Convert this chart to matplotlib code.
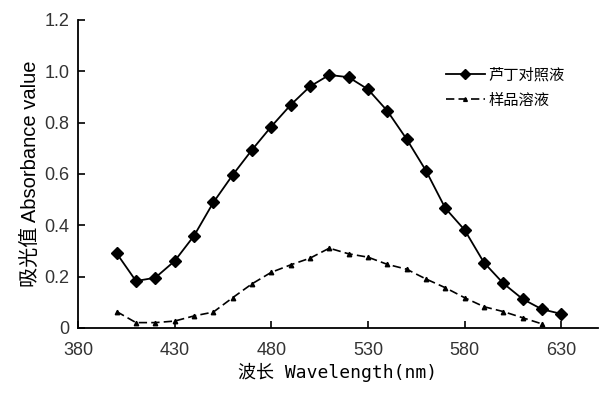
import matplotlib
matplotlib.use("Agg")
import matplotlib.pyplot as plt

wl_rutin = [400, 410, 420, 430, 440, 450, 460, 470, 480, 490, 500, 510,
            520, 530, 540, 550, 560, 570, 580, 590, 600, 610, 620, 630]
abs_rutin = [0.291, 0.183, 0.196, 0.261, 0.359, 0.489, 0.596, 0.694, 0.785,
             0.869, 0.941, 0.986, 0.977, 0.930, 0.846, 0.736, 0.613, 0.467,
             0.382, 0.255, 0.174, 0.113, 0.073, 0.055]
wl_sample = [400, 410, 420, 430, 440, 450, 460, 470, 480, 490, 500, 510,
             520, 530, 540, 550, 560, 570, 580, 590, 600, 610, 620]
abs_sample = [0.064, 0.021, 0.021, 0.027, 0.047, 0.062, 0.118, 0.172, 0.217,
              0.246, 0.272, 0.311, 0.289, 0.276, 0.248, 0.229, 0.191, 0.157,
              0.118, 0.083, 0.064, 0.040, 0.016]
labels = ["芦丁对照液", "样品溶液"]
xticks = [380, 430, 480, 530, 580, 630]
yticks = [0, 0.2, 0.4, 0.6, 0.8, 1.0, 1.2]
yticklabels = ["0", "0.2", "0.4", "0.6", "0.8", "1.0", "1.2"]

fig = plt.figure(figsize=(6.01, 3.94), dpi=100)
ax = fig.add_axes([78/601, 66/394, 520/601, 308/394])

ax.plot(wl_rutin, abs_rutin, color="black", lw=1.3, marker="D",
        markersize=6.5, label=labels[0])
ax.plot(wl_sample, abs_sample, color="black", lw=1.2, linestyle=(0, (5, 2.5)),
        marker="^", markersize=3.2, label=labels[1])

ax.set_xlim(380, 649)
ax.set_ylim(0, 1.2)
ax.set_xticks(xticks)
ax.set_yticks(yticks)
ax.set_yticklabels(yticklabels)
for s in ["top", "right"]:
    ax.spines[s].set_visible(False)
for s in ["left", "bottom"]:
    ax.spines[s].set_linewidth(1.3)
ax.tick_params(axis="both", direction="in", length=5, width=1.2,
               labelsize=13, colors="black")
ax.tick_params(axis="x", pad=10)
ax.tick_params(axis="y", pad=6)
for lab in ax.get_xticklabels() + ax.get_yticklabels():
    lab.set_family(["Liberation Sans", "DejaVu Sans"])
    lab.set_color("#333333")

ax.set_xlabel("波长 Wavelength(nm)", fontsize=13,
              family=["DejaVu Sans Mono", "Noto Sans CJK SC"], labelpad=3)
ax.set_ylabel("吸光值 Absorbance value", fontsize=14.5,
              family=["Liberation Sans", "Noto Sans CJK SC"], labelpad=3)

leg = ax.legend(loc="upper left", bbox_to_anchor=(0.695, 0.87), frameon=False,
                prop={"family": ["Noto Sans CJK SC"], "size": 11},
                handlelength=2.6, handletextpad=0.2, labelspacing=0.55,
                borderaxespad=0, markerscale=0.85)

fig.savefig("out.png", dpi=100)
